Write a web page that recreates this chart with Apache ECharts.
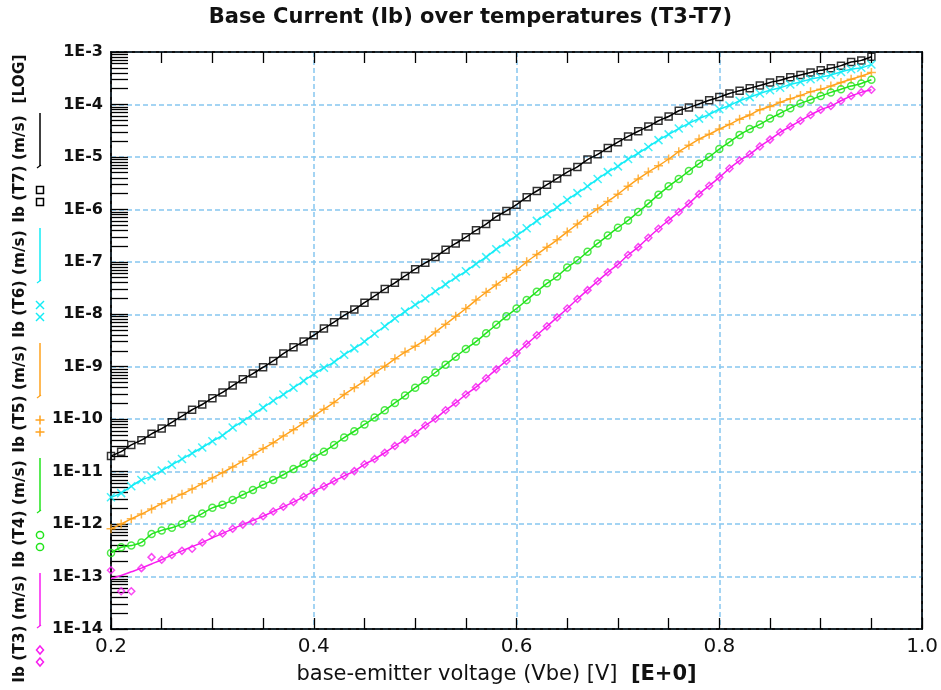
<!DOCTYPE html>
<html>
<head>
<meta charset="utf-8">
<title>Base Current (Ib) over temperatures (T3-T7)</title>
<script src="https://cdn.jsdelivr.net/npm/echarts@6/dist/echarts.min.js"></script>
<style>
  html, body { margin: 0; padding: 0; background: #fff; }
  #chart { width: 941px; height: 690px; }
</style>
</head>
<body>
<div id="chart"></div>
<script>
// base-emitter voltage (V), one sample every 10 mV
const vbe = [
  0.20, 0.21, 0.22, 0.23, 0.24, 0.25, 0.26, 0.27, 0.28, 0.29,
  0.30, 0.31, 0.32, 0.33, 0.34, 0.35, 0.36, 0.37, 0.38, 0.39,
  0.40, 0.41, 0.42, 0.43, 0.44, 0.45, 0.46, 0.47, 0.48, 0.49,
  0.50, 0.51, 0.52, 0.53, 0.54, 0.55, 0.56, 0.57, 0.58, 0.59,
  0.60, 0.61, 0.62, 0.63, 0.64, 0.65, 0.66, 0.67, 0.68, 0.69,
  0.70, 0.71, 0.72, 0.73, 0.74, 0.75, 0.76, 0.77, 0.78, 0.79,
  0.80, 0.81, 0.82, 0.83, 0.84, 0.85, 0.86, 0.87, 0.88, 0.89,
  0.90, 0.91, 0.92, 0.93, 0.94, 0.95
]

// log10(Ib) per temperature
const ibT7 = [
  -10.70, -10.62, -10.49, -10.40, -10.28, -10.18, -10.06, -9.94, -9.82, -9.72,
  -9.60, -9.49, -9.36, -9.24, -9.13, -9.01, -8.89, -8.75, -8.63, -8.52,
  -8.40, -8.27, -8.15, -8.02, -7.91, -7.78, -7.65, -7.52, -7.40, -7.27,
  -7.14, -7.02, -6.91, -6.77, -6.65, -6.53, -6.40, -6.28, -6.14, -6.03,
  -5.91, -5.77, -5.65, -5.53, -5.41, -5.29, -5.19, -5.05, -4.95, -4.83,
  -4.72, -4.61, -4.51, -4.42, -4.31, -4.23, -4.12, -4.06, -3.99, -3.92,
  -3.86, -3.79, -3.74, -3.69, -3.64, -3.58, -3.54, -3.48, -3.44, -3.39,
  -3.35, -3.31, -3.26, -3.19, -3.16, -3.09
]
const ibT6 = [
  -11.49, -11.41, -11.28, -11.16, -11.09, -10.98, -10.87, -10.76, -10.65, -10.54,
  -10.42, -10.31, -10.16, -10.04, -9.91, -9.78, -9.65, -9.53, -9.40, -9.27,
  -9.14, -9.02, -8.91, -8.77, -8.65, -8.52, -8.37, -8.23, -8.08, -7.95,
  -7.82, -7.70, -7.56, -7.43, -7.30, -7.18, -7.04, -6.91, -6.76, -6.63,
  -6.50, -6.36, -6.22, -6.09, -5.96, -5.82, -5.69, -5.56, -5.42, -5.29,
  -5.18, -5.04, -4.93, -4.81, -4.68, -4.57, -4.46, -4.36, -4.27, -4.19,
  -4.09, -4.02, -3.93, -3.86, -3.79, -3.73, -3.68, -3.62, -3.57, -3.52,
  -3.48, -3.44, -3.38, -3.33, -3.30, -3.24
]
const ibT5 = [
  -12.09, -12.00, -11.90, -11.81, -11.71, -11.61, -11.52, -11.43, -11.33, -11.23,
  -11.12, -11.02, -10.91, -10.80, -10.68, -10.56, -10.45, -10.32, -10.20, -10.07,
  -9.94, -9.81, -9.68, -9.53, -9.40, -9.27, -9.12, -8.99, -8.85, -8.72,
  -8.61, -8.49, -8.34, -8.19, -8.04, -7.89, -7.73, -7.58, -7.44, -7.30,
  -7.16, -7.00, -6.86, -6.72, -6.58, -6.43, -6.28, -6.13, -5.99, -5.85,
  -5.71, -5.56, -5.42, -5.29, -5.17, -5.04, -4.90, -4.78, -4.66, -4.57,
  -4.47, -4.38, -4.28, -4.20, -4.10, -4.04, -3.96, -3.89, -3.83, -3.76,
  -3.71, -3.65, -3.58, -3.52, -3.46, -3.39
]
const ibT4 = [
  -12.55, -12.44, -12.41, -12.35, -12.19, -12.12, -12.07, -12.00, -11.90, -11.80,
  -11.69, -11.63, -11.54, -11.44, -11.35, -11.25, -11.16, -11.06, -10.95, -10.85,
  -10.73, -10.62, -10.49, -10.35, -10.23, -10.10, -9.97, -9.83, -9.69, -9.55,
  -9.40, -9.26, -9.11, -8.96, -8.81, -8.66, -8.52, -8.36, -8.20, -8.04,
  -7.89, -7.73, -7.57, -7.41, -7.28, -7.11, -6.97, -6.81, -6.65, -6.50,
  -6.35, -6.21, -6.05, -5.89, -5.72, -5.56, -5.42, -5.27, -5.13, -5.00,
  -4.85, -4.72, -4.58, -4.47, -4.38, -4.27, -4.17, -4.07, -3.98, -3.91,
  -3.84, -3.77, -3.71, -3.65, -3.60, -3.53
]
const ibT3 = [
  -13.04, -12.98, -12.91, -12.84, -12.76, -12.68, -12.59, -12.51, -12.43, -12.35,
  -12.26, -12.18, -12.09, -12.01, -11.93, -11.85, -11.76, -11.67, -11.58, -11.48,
  -11.37, -11.28, -11.18, -11.08, -10.99, -10.86, -10.76, -10.64, -10.51, -10.39,
  -10.27, -10.12, -9.99, -9.83, -9.69, -9.53, -9.39, -9.22, -9.05, -8.89,
  -8.74, -8.57, -8.40, -8.23, -8.06, -7.89, -7.71, -7.54, -7.37, -7.20,
  -7.05, -6.87, -6.72, -6.54, -6.37, -6.21, -6.05, -5.89, -5.71, -5.55,
  -5.39, -5.22, -5.07, -4.95, -4.80, -4.67, -4.53, -4.42, -4.31, -4.20,
  -4.10, -4.03, -3.93, -3.84, -3.77, -3.72
]
// T3 samples that sit off the fitted line at low Vbe: [Vbe, log10(Ib)]
const ibT3Outliers = [
  [0.20, -12.88], [0.21, -13.28], [0.22, -13.28], [0.24, -12.63],
  [0.28, -12.47], [0.30, -12.19], [0.34, -11.95]
]

const yTickExp = [-14, -3]

const crossPath = 'path://M0,0L10,10M10,0L0,10'
const plusPath = 'path://M5,0L5,10M0,5L10,5'

const curves = [
  { name: 'Ib (T7) (m/s)', values: ibT7, color: '#000000', symbol: 'rect', size: 7, mark: 'square', top: 113 },
  { name: 'Ib (T6) (m/s)', values: ibT6, color: '#12ecf6', symbol: crossPath, size: 8, mark: 'cross', top: 228 },
  { name: 'Ib (T5) (m/s)', values: ibT5, color: '#ffa21c', symbol: plusPath, size: 9, mark: 'plus', top: 343 },
  { name: 'Ib (T4) (m/s)', values: ibT4, color: '#22e41c', symbol: 'circle', size: 7, mark: 'circle', top: 458 },
  { name: 'Ib (T3) (m/s)', values: ibT3, color: '#f81cf0', symbol: 'diamond', size: 7, mark: 'diamond', top: 573 }
]

function toPoints(values) {
  return vbe.map((v, i) => [v, Math.pow(10, values[i])])
}

function markerPoints(c) {
  if (c.values !== ibT3) return toPoints(c.values)
  const skip = ibT3Outliers.map(p => p[0])
  return toPoints(c.values)
    .filter(p => !skip.includes(p[0]))
    .concat(ibT3Outliers.map(p => [p[0], Math.pow(10, p[1])]))
}

// log minor ticks (2..9 in every decade), in exponent units
const minorTicks = []
for (let e = yTickExp[0]; e < yTickExp[1]; e++) {
  for (let k = 2; k <= 9; k++) minorTicks.push(e + Math.log10(k))
}

function legendMark(kind, cx, cy, color) {
  const style = { fill: 'none', stroke: color, lineWidth: 1.5 }
  if (kind === 'square') return { type: 'rect', shape: { x: cx - 3.5, y: cy - 3.5, width: 7, height: 7 }, style }
  if (kind === 'circle') return { type: 'circle', shape: { cx, cy, r: 3.6 }, style }
  if (kind === 'diamond') {
    return { type: 'polygon', shape: { points: [[cx, cy - 4], [cx + 3.5, cy], [cx, cy + 4], [cx - 3.5, cy]] }, style }
  }
  if (kind === 'cross') {
    return {
      type: 'group',
      children: [
        { type: 'line', shape: { x1: cx - 4, y1: cy - 4, x2: cx + 4, y2: cy + 4 }, style },
        { type: 'line', shape: { x1: cx + 4, y1: cy - 4, x2: cx - 4, y2: cy + 4 }, style }
      ]
    }
  }
  return {
    type: 'group',
    children: [
      { type: 'line', shape: { x1: cx, y1: cy - 4.5, x2: cx, y2: cy + 4.5 }, style },
      { type: 'line', shape: { x1: cx - 4.5, y1: cy, x2: cx + 4.5, y2: cy }, style }
    ]
  }
}

function buildLegend() {
  const font = 'bold 15.4px "DejaVu Sans"'
  const els = [{
    type: 'text', x: 20, y: 79, rotation: Math.PI / 2,
    style: { text: '[LOG]', font, fill: '#111', align: 'center', verticalAlign: 'middle' }
  }]
  curves.forEach(c => {
    els.push({
      type: 'text', x: 20, y: c.top + 56, rotation: Math.PI / 2,
      style: { text: c.name, font, fill: '#111', align: 'center', verticalAlign: 'middle' }
    })
    els.push({ type: 'line', shape: { x1: 40, y1: c.top, x2: 40, y2: c.top + 53 }, style: { stroke: c.color, lineWidth: 1.5 } })
    els.push({ type: 'line', shape: { x1: 37, y1: c.top + 55, x2: 41, y2: c.top + 52 }, style: { stroke: c.color, lineWidth: 1.2 } })
    els.push(legendMark(c.mark, 40, c.top + 77, c.color))
    els.push(legendMark(c.mark, 40, c.top + 89, c.color))
  })
  return els
}

const gridLine = { color: '#86c6f0', width: 1.5, type: [5, 3] }
const black = { color: '#000', width: 1.3 }

function buildOption() {
  const series = []
  curves.forEach(c => {
    series.push({
      name: c.name,
      type: 'line',
      data: toPoints(c.values),
      showSymbol: false,
      smooth: 0.3,
      lineStyle: { color: c.color, width: 1.5 },
      z: 2
    })
    series.push({
      name: c.name + ' pts',
      type: 'scatter',
      data: markerPoints(c),
      symbol: c.symbol,
      symbolSize: c.size,
      itemStyle: { color: 'rgba(0,0,0,0)', borderColor: c.color, borderWidth: 1.5 },
      z: 3
    })
  })

  return {
    animation: false,
    backgroundColor: '#fff',
    title: {
      text: 'Base Current (Ib) over temperatures (T3-T7)',
      left: 'center',
      top: 2,
      padding: [5, 0, 5, 9],
      textStyle: { fontFamily: 'DejaVu Sans', fontWeight: 'bold', fontSize: 21, color: '#111' }
    },
    grid: {
      left: 111, right: 17, top: 52, bottom: 58,
      show: true, borderColor: '#000', borderWidth: 1.5
    },
    xAxis: [
      {
        type: 'value',
        min: 0.2,
        max: 1.0,
        interval: 0.2,
        position: 'bottom',
        name: '{a|base-emitter voltage (Vbe) [V]}  {b|[E+0]}',
        nameLocation: 'middle',
        nameGap: 35,
        nameTextStyle: {
          padding: [0, 40, 0, 0],
          fontFamily: 'DejaVu Sans', fontSize: 21, color: '#111',
          rich: {
            a: { fontFamily: 'DejaVu Sans', fontSize: 21, color: '#111' },
            b: { fontFamily: 'DejaVu Sans', fontWeight: 'bold', fontSize: 21, color: '#111' }
          }
        },
        axisLine: { onZero: false, lineStyle: { color: '#000', width: 1.5 } },
        axisTick: { inside: true, length: 11, lineStyle: black },
        minorTick: { show: true, splitNumber: 4, length: 11, lineStyle: black },
        axisLabel: {
          margin: 8,
          fontFamily: 'DejaVu Sans', fontSize: 20, color: '#111',
          formatter: v => v.toFixed(1)
        },
        splitLine: { show: true, lineStyle: gridLine }
      },
      {
        type: 'value',
        min: 0.2,
        max: 1.0,
        interval: 0.2,
        position: 'top',
        axisLine: { onZero: false, lineStyle: { color: '#000', width: 1.5 } },
        axisTick: { inside: true, length: 11, lineStyle: black },
        minorTick: { show: true, splitNumber: 4, length: 11, lineStyle: black },
        axisLabel: { show: false },
        splitLine: { show: false }
      }
    ],
    yAxis: [
      {
        type: 'log',
        logBase: 10,
        min: Math.pow(10, yTickExp[0]),
        max: Math.pow(10, yTickExp[1]),
        interval: 1,
        splitNumber: 11,
        axisLine: { onZero: false, lineStyle: { color: '#000', width: 1.5 } },
        axisTick: { inside: true, length: 17, lineStyle: black },
        axisLabel: {
          margin: 8,
          fontFamily: 'DejaVu Sans', fontWeight: 'bold', fontSize: 16, color: '#111',
          formatter: v => '1E' + Math.round(Math.log10(v))
        },
        splitLine: { show: true, lineStyle: gridLine }
      },
      {
        type: 'value',
        min: yTickExp[0],
        max: yTickExp[1],
        position: 'left',
        axisLine: { show: false, onZero: false },
        axisTick: { show: true, inside: true, length: 17, customValues: minorTicks, lineStyle: black },
        axisLabel: { show: false },
        splitLine: { show: false }
      },
      {
        // plain right frame edge, drawn over the x grid line at 1.0
        type: 'value',
        min: yTickExp[0],
        max: yTickExp[1],
        position: 'right',
        axisLine: { show: true, onZero: false, lineStyle: { color: '#000', width: 1.5 } },
        axisTick: { show: false },
        axisLabel: { show: false },
        splitLine: { show: false },
        z: 5
      }
    ],
    graphic: buildLegend(),
    series
  }
}

const chart = echarts.init(document.getElementById('chart'))
chart.setOption(buildOption())
window.addEventListener('resize', () => chart.resize())
</script>
</body>
</html>
